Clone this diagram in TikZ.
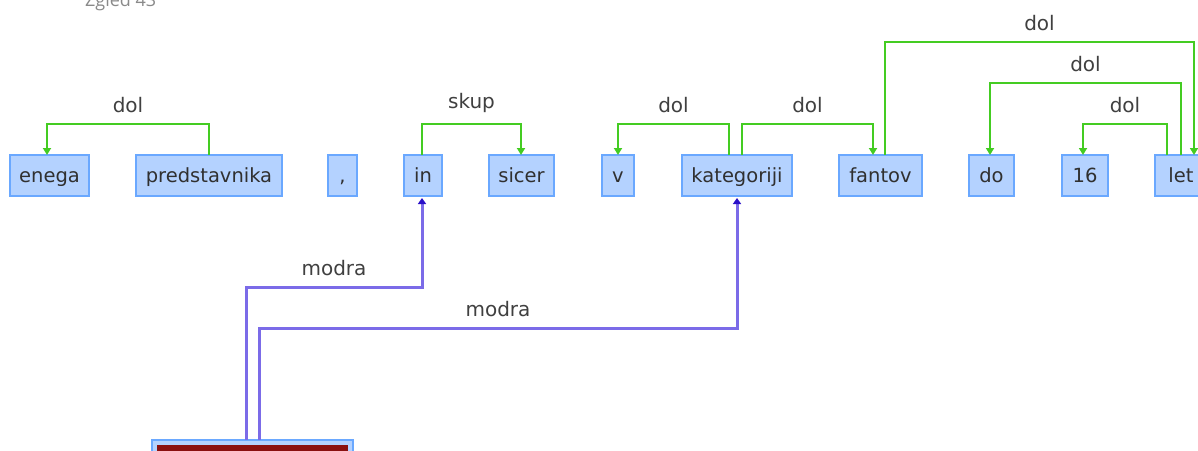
\documentclass[tikz,border=0pt]{standalone}
\usepackage{fontspec}
\setmainfont{DejaVu Sans}
\newfontfamily\capfont{Open Sans}
\usetikzlibrary{arrows.meta}
\definecolor{wordfill}{HTML}{B4D2FF}
\definecolor{wordline}{HTML}{6AA8FF}
\definecolor{wordtext}{HTML}{303030}
\definecolor{depgreen}{HTML}{44CC22}
\definecolor{labtext}{HTML}{404040}
\definecolor{modline}{HTML}{7B6BE8}
\definecolor{modtip}{HTML}{2A10C8}
\definecolor{darkred}{HTML}{8A1010}
\definecolor{capgray}{HTML}{8A8A8A}
\tikzset{
  word/.style={draw=wordline, fill=wordfill, line width=2pt, minimum height=41pt,
    inner sep=0pt, outer sep=0pt, anchor=north west, text=wordtext,
    text height=16pt, text depth=2pt,
    font=\fontsize{19.5}{22}\selectfont},
  dep/.style={draw=depgreen, line width=2.2pt, -{Triangle[width=8pt,length=7pt]}},
  deplab/.style={font=\fontsize{20}{22}\selectfont, text=labtext, inner sep=0pt, above=10pt},
  modedge/.style={draw=modline, line width=3pt, -{Triangle[width=8pt,length=6pt,color=modtip]}},
  srcbox/.style={draw=wordline, fill=wordfill, line width=2pt, inner sep=0pt, outer sep=0pt,
    anchor=north west,
    path picture={\fill[darkred] ([shift={(5pt,-5pt)}]path picture bounding box.north west)
      rectangle ([shift={(-5pt,5pt)}]path picture bounding box.south east);}},
}
\begin{document}
\begin{tikzpicture}[x=1pt,y=-1pt]
\useasboundingbox (0,0) rectangle (1198,450);
\clip (0,0) rectangle (1198,450);
\fill[white] (0,0) rectangle (1198,450);

\node[anchor=base west, text=capgray, font=\capfont\fontsize{18}{20}\selectfont, inner sep=0pt] (cap) at (85,6) {Zgled 43};

\node[word, minimum width=79pt] (enega) at (10,155) {enega};
\node[word, minimum width=146pt] (pred) at (136,155) {predstavnika};
\node[word, minimum width=29pt] (comma) at (328,155) {,};
\node[word, minimum width=38pt] (in) at (404,155) {in};
\node[word, minimum width=65pt] (sicer) at (489,155) {sicer};
\node[word, minimum width=32pt] (v) at (602,155) {v};
\node[word, minimum width=110pt] (kat) at (682,155) {kategoriji};
\node[word, minimum width=83pt] (fantov) at (839,155) {fantov};
\node[word, minimum width=45pt] (do) at (969,155) {do};
\node[word, minimum width=46pt] (n16) at (1062,155) {16};
\node[word, minimum width=52pt] (let) at (1155,155) {let};

\node[srcbox, minimum width=201pt, minimum height=40pt] (src) at (152,440) {};

% green dependency arcs
\draw[dep] ([xshift=73pt]pred.north west) -- ++(0,-31) -| node[deplab, pos=0.25]{dol} ([xshift=37pt]enega.north west);
\draw[dep] ([xshift=18pt]in.north west) -- ++(0,-31) -| node[deplab, pos=0.25]{skup} ([xshift=32pt]sicer.north west);
\draw[dep] ([xshift=47pt]kat.north west) -- ++(0,-31) -| node[deplab, pos=0.25]{dol} ([xshift=16pt]v.north west);
\draw[dep] ([xshift=60pt]kat.north west) -- ++(0,-31) -| node[deplab, pos=0.25]{dol} ([xshift=34pt]fantov.north west);
\draw[dep] ([xshift=46pt]fantov.north west) -- ++(0,-113) -| node[deplab, pos=0.25]{dol} ([xshift=39pt]let.north west);
\draw[dep] ([xshift=26pt]let.north west) -- ++(0,-72) -| node[deplab, pos=0.25]{dol} ([xshift=21pt]do.north west);
\draw[dep] ([xshift=12pt]let.north west) -- ++(0,-31) -| node[deplab, pos=0.25]{dol} ([xshift=21pt]n16.north west);

% purple edges
\draw[modedge] ([xshift=94pt]src.north west) -- ++(0,-153) -| node[deplab, pos=0.25]{modra} ([xshift=18pt,yshift=-2pt]in.south west);
\draw[modedge] ([xshift=107pt]src.north west) -- ++(0,-112) -| node[deplab, pos=0.25]{modra} ([xshift=55pt,yshift=-2pt]kat.south west);
\end{tikzpicture}
\end{document}
